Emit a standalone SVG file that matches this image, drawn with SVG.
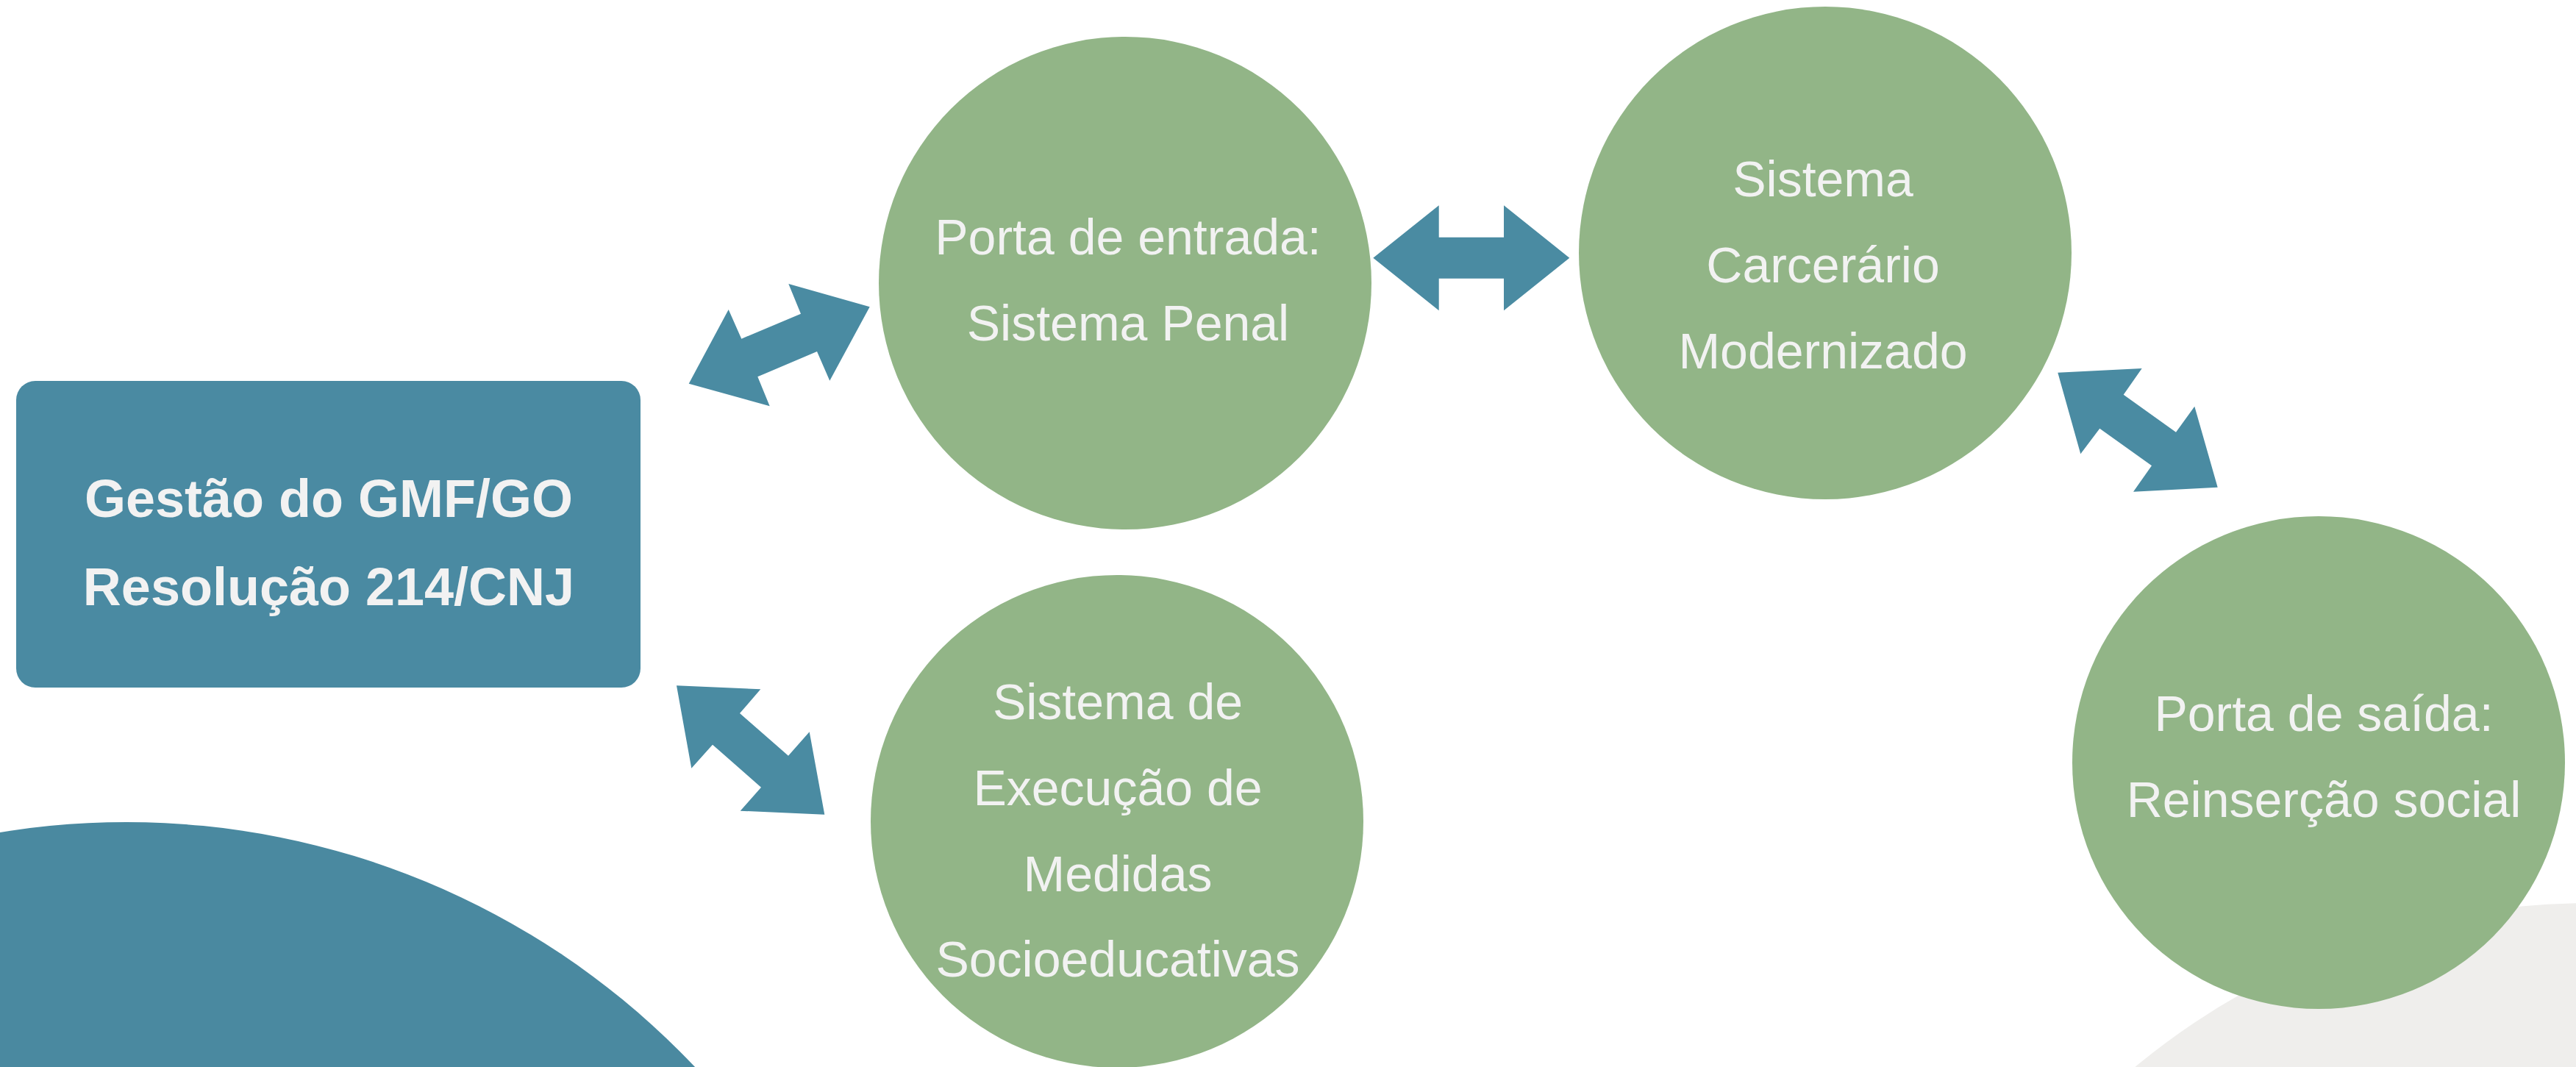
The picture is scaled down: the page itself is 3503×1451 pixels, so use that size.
<svg xmlns="http://www.w3.org/2000/svg" width="3503" height="1451" viewBox="0 0 3503 1451">
<style>
.node-c{fill:#92B587}
.node-r{fill:#4A8AA2}
.conn{fill:#4A8BA2}
.t{font-family:"Liberation Sans",Arial,sans-serif;fill:#F2F2F2;text-anchor:middle;font-size:68px}
.tb{font-family:"Liberation Sans",Arial,sans-serif;fill:#F2F2F2;text-anchor:middle;font-size:72px;font-weight:bold}
</style>
<rect x="0" y="0" width="3503" height="1451" fill="#FFFFFF"/>
<g id="background">
<circle cx="172" cy="2182" r="1064" fill="#4A89A0"/>
<circle cx="3520" cy="2192" r="964" fill="#EFEEEC"/>
</g>
<g id="node-gestao">
<rect class="node-r" x="22" y="518" width="849" height="417" rx="26" ry="26"/>
<text class="tb" x="447" y="703">Gestão do GMF/GO</text>
<text class="tb" x="447" y="823">Resolução 214/CNJ</text>
</g>
<g id="node-porta-entrada">
<circle class="node-c" cx="1530" cy="385" r="335"/>
<text class="t" x="1534" y="346">Porta de entrada:</text>
<text class="t" x="1534" y="463">Sistema Penal</text>
</g>
<g id="node-carcerario">
<circle class="node-c" cx="2482" cy="344" r="335"/>
<text class="t" x="2479" y="267">Sistema</text>
<text class="t" x="2479" y="384">Carcerário</text>
<text class="t" x="2479" y="501">Modernizado</text>
</g>
<g id="node-socioeducativas">
<circle class="node-c" cx="1519" cy="1117" r="335"/>
<text class="t" x="1520" y="978">Sistema de</text>
<text class="t" x="1520" y="1095">Execução de</text>
<text class="t" x="1520" y="1212">Medidas</text>
<text class="t" x="1520" y="1328">Socioeducativas</text>
</g>
<g id="node-porta-saida">
<circle class="node-c" cx="3153" cy="1037" r="335"/>
<text class="t" x="3160" y="994">Porta de saída:</text>
<text class="t" x="3160" y="1111">Reinserção social</text>
</g>
<g id="connectors">
<polygon class="conn" points="936.7,521.7 990.7,421 1008.3,460.7 1089,426.7 1072.3,386 1182.7,417.3 1128.3,517.7 1111,478 1030.3,512.3 1046.7,552.3"/>
<polygon class="conn" points="1867.3,350.7 1956.7,279.3 1956.7,322.7 2045,322.7 2045,279.3 2134.3,350.7 2045,422.3 2045,378.7 1956.7,378.7 1956.7,422.3"/>
<polygon class="conn" points="2798.3,506.7 2912.7,501 2887.7,536.7 2959,587.7 2984.3,552.7 3015.7,662.7 2901,668.7 2926,633.3 2855.3,582.7 2829.3,617.3"/>
<polygon class="conn" points="920,932.3 1034.3,937.3 1006,970 1072,1027.7 1100.7,995.3 1121.3,1107.7 1006.7,1102.7 1035,1070.7 969,1012.7 940.3,1044.7"/>
</g>
</svg>
